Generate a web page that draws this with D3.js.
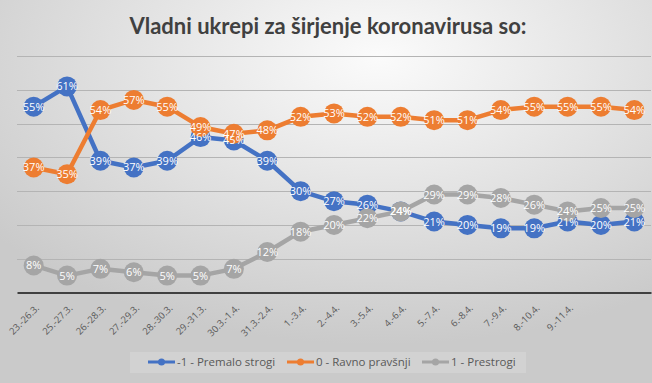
<!DOCTYPE html>
<html>
<head>
<meta charset="utf-8">
<script src="https://cdn.jsdelivr.net/npm/d3@7"></script>
<style>
  body { margin: 0; }
  svg { display: block; }
</style>
</head>
<body>
<div id="main"></div>
<script>
// Chart data
const categories = ['23.-26.3.', '25.-27.3.', '26.-28.3.', '27.-29.3.', '28.-30.3.', '29.-31.3.',
  '30.3.-1.4.', '31.3.-2.4.', '1.-3.4.', '2.-4.4.', '3.-5.4.', '4.-6.4.', '5.-7.4.', '6.-8.4.',
  '7.-9.4.', '8.-10.4.', '9.-11.4.', '', ''];
const premaloStrogi = [55, 61, 39, 37, 39, 46, 45, 39, 30, 27, 26, 24, 21, 20, 19, 19, 21, 20, 21];
const ravnoPravsnji = [37, 35, 54, 57, 55, 49, 47, 48, 52, 53, 52, 52, 51, 51, 54, 55, 55, 55, 54];
const prestrogi = [8, 5, 7, 6, 5, 5, 7, 12, 18, 20, 22, 24, 29, 29, 28, 26, 24, 25, 25];
const yTicks = [0, 10, 20, 30, 40, 50, 60, 70];

const series = [
  { name: '-1 - Premalo strogi', values: premaloStrogi, color: '#4472c4' },
  { name: '0 - Ravno pravšnji', values: ravnoPravsnji, color: '#ed7d31' },
  { name: '1 - Prestrogi', values: prestrogi, color: '#a5a5a5' }
];

const w = 652;
const h = 383;

const svg = d3.select('div#main')
  .append('svg')
  .attr('width', w)
  .attr('height', h);

// background gradient
const defs = svg.append('defs');
const grad = defs.append('radialGradient')
  .attr('id', 'bg')
  .attr('cx', '58%').attr('cy', '15%')
  .attr('r', '75%');
grad.append('stop').attr('offset', '0%').attr('stop-color', '#fbfbfb');
grad.append('stop').attr('offset', '100%').attr('stop-color', '#cacaca');

svg.append('rect')
  .attr('width', w)
  .attr('height', h)
  .attr('fill', 'url(#bg)');

// Scales
const x = d3.scaleBand()
  .domain(d3.range(categories.length))
  .range([17, 651]);
const y = d3.scaleLinear()
  .domain([0, 70])
  .range([292.5, 56]);

// gridlines
svg.append('g')
  .selectAll('line')
  .data(yTicks.slice(1))
  .join('line')
  .attr('x1', 17)
  .attr('x2', 651)
  .attr('y1', d => Math.round(y(d)) + 0.5)
  .attr('y2', d => Math.round(y(d)) + 0.5)
  .attr('stroke', '#b4b4b4')
  .attr('stroke-width', 1);

// x axis
const xAxis = svg.append('g')
  .attr('transform', `translate(0,${y(0)})`)
  .call(d3.axisBottom(x).tickSize(0).tickFormat(i => categories[i]));
xAxis.select('.domain')
  .attr('stroke', '#404040')
  .attr('stroke-width', 2.2);
xAxis.selectAll('text')
  .attr('font-family', 'Open Sans, sans-serif')
  .attr('font-size', 9.5)
  .attr('fill', '#595959')
  .attr('text-anchor', 'end')
  .attr('dy', 0)
  .attr('transform', 'translate(4,14) rotate(-45)');

// lines + markers
const cx = i => x(i) + x.bandwidth() / 2;
const line = d3.line()
  .x((d, i) => cx(i))
  .y(d => y(d));

series.forEach(s => {
  const g = svg.append('g');
  g.append('path')
    .datum(s.values)
    .attr('d', line)
    .attr('fill', 'none')
    .attr('stroke', s.color)
    .attr('stroke-width', 4.5)
    .attr('stroke-linejoin', 'round');
  g.selectAll('circle')
    .data(s.values)
    .join('circle')
    .attr('cx', (d, i) => cx(i))
    .attr('cy', d => y(d))
    .attr('r', 10)
    .attr('fill', s.color);
});

// data labels (drawn after all markers)
series.forEach(s => {
  svg.append('g')
    .selectAll('text')
    .data(s.values)
    .join('text')
    .attr('x', (d, i) => cx(i))
    .attr('y', d => y(d) + 4)
    .attr('text-anchor', 'middle')
    .attr('font-family', 'Open Sans, sans-serif')
    .attr('font-size', 11)
    .attr('fill', '#ffffff')
    .text(d => d + '%');
});

// title
svg.append('text')
  .attr('x', 328)
  .attr('y', 34)
  .attr('text-anchor', 'middle')
  .attr('font-family', 'Lato, sans-serif')
  .attr('font-weight', 'bold')
  .attr('font-size', 22)
  .attr('fill', '#404040')
  .text('Vladni ukrepi za širjenje koronavirusa so:');

// legend
svg.append('rect')
  .attr('x', 130).attr('y', 352)
  .attr('width', 396).attr('height', 21)
  .attr('fill', '#ffffff')
  .attr('opacity', 0.15);

const legendX = [148, 287, 422];
series.forEach((s, i) => {
  const lg = svg.append('g').attr('transform', `translate(${legendX[i]},362)`);
  lg.append('line')
    .attr('x1', 0).attr('x2', 27)
    .attr('stroke', s.color)
    .attr('stroke-width', 3);
  lg.append('circle')
    .attr('cx', 13.5).attr('r', 3.5)
    .attr('fill', s.color);
  lg.append('text')
    .attr('x', 29)
    .attr('y', 4)
    .attr('font-family', 'Open Sans, sans-serif')
    .attr('font-size', 11.5)
    .attr('fill', '#595959')
    .text(s.name);
});
</script>
</body>
</html>
